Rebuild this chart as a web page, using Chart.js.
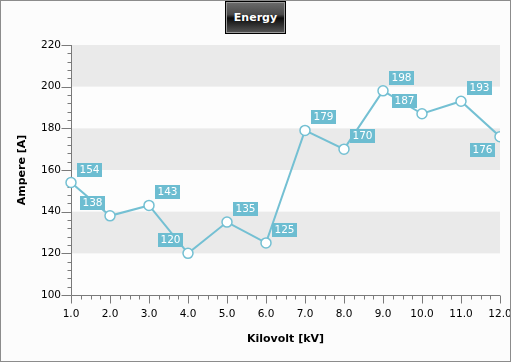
<!DOCTYPE html>
<html>
<head>
<meta charset="utf-8">
<script src="https://cdn.jsdelivr.net/npm/chart.js@4"></script>
<style>
    html, body { margin: 0; padding: 0; background: #fcfcfc; }
    #wrap { position: relative; width: 511px; height: 362px; }
    #frame { position: absolute; left: 0; top: 0; width: 511px; height: 362px; box-sizing: border-box; border: 1px solid #8c8c8c; pointer-events: none; }
    #title {
        position: absolute; left: 225px; top: 1px; width: 61px; height: 33px; box-sizing: border-box;
        border: 1px solid #000; box-shadow: inset 0 0 0 1px #9a9a9a;
        background: linear-gradient(#6c6c6c 0%, #4a4a4a 40%, #0c0c0c 52%, #1c1c1c 62%, #575757 100%);
        color: #fff; font: bold 11px "DejaVu Sans", sans-serif; text-align: center; line-height: 31px;
    }
</style>
</head>
<body>
<div id="wrap">
    <canvas id="chart" width="511" height="362"></canvas>
    <div id="title">Energy</div>
    <div id="frame"></div>
</div>
<script>
// data
const kilovolts = [1, 2, 3, 4, 5, 6, 7, 8, 9, 10, 11, 12];
const amperes = [154, 138, 143, 120, 135, 125, 179, 170, 198, 187, 193, 176];
const labelSides = ['ne', 'nw', 'ne', 'nw', 'ne', 'ne', 'ne', 'ne', 'ne', 'nw', 'ne', 'sw'];
const yBands = [[200, 220], [160, 180], [120, 140]];

const LINE = '#74c0d3';
const LABEL_BG = '#6dbdd1';
const AXIS = '#7a7a7a';
const FONT = '"DejaVu Sans", sans-serif';

// grey bands behind the plot
const bandsPlugin = {
    id: 'bands',
    beforeDatasetsDraw(chart) {
        const { ctx, chartArea: a, scales: { y } } = chart;
        ctx.save();
        ctx.fillStyle = '#fdfdfd';
        ctx.fillRect(a.left + 1, a.top, a.right - a.left - 1, a.bottom - a.top);
        ctx.fillStyle = '#eaeaea';
        yBands.forEach(([lo, hi]) => {
            const top = y.getPixelForValue(hi), bot = y.getPixelForValue(lo);
            ctx.fillRect(a.left + 1, top, a.right - a.left - 1, bot - top);
        });
        ctx.restore();
    }
};

// axis lines with major and minor ticks
const axesPlugin = {
    id: 'axes',
    beforeDatasetsDraw(chart) {
        const { ctx, chartArea: a, scales: { x, y } } = chart;
        ctx.save();
        ctx.strokeStyle = AXIS;
        ctx.lineWidth = 1;
        ctx.beginPath();
        const ax = Math.round(a.left) + 0.5, ay = Math.round(a.bottom) + 0.5;
        ctx.moveTo(ax, a.top); ctx.lineTo(ax, ay);
        ctx.moveTo(ax, ay); ctx.lineTo(a.right, ay);
        for (let v = y.min; v <= y.max; v += 4) {
            const py = Math.round(y.getPixelForValue(v)) + 0.5;
            ctx.moveTo(ax - (v % 20 === 0 ? 10 : 4), py); ctx.lineTo(ax, py);
        }
        for (let v = x.min; v <= x.max + 1e-9; v += 0.25) {
            const px = Math.round(x.getPixelForValue(v)) + 0.5;
            ctx.moveTo(px, ay); ctx.lineTo(px, ay + (Math.abs(v - Math.round(v)) < 1e-9 ? 8 : 4));
        }
        ctx.stroke();
        ctx.restore();
    }
};

// value tags next to each point
const labelsPlugin = {
    id: 'valueTags',
    afterDatasetsDraw(chart) {
        const { ctx } = chart;
        const pts = chart.getDatasetMeta(0).data;
        ctx.save();
        ctx.font = '10.5px ' + FONT;
        ctx.textAlign = 'center';
        ctx.textBaseline = 'middle';
        pts.forEach((p, i) => {
            const text = String(amperes[i]);
            const w = Math.round(ctx.measureText(text).width) + 5, h = 14;
            const side = labelSides[i];
            const bx = side.includes('e') ? p.x + 6 : p.x - 5 - w;
            const by = side.includes('n') ? p.y - 6 - h : p.y + 6;
            ctx.fillStyle = LABEL_BG;
            ctx.fillRect(Math.round(bx), Math.round(by), w, h);
            ctx.fillStyle = '#fff';
            ctx.fillText(text, Math.round(bx) + w / 2, Math.round(by) + h / 2 + 0.5);
        });
        ctx.restore();
    }
};

new Chart(document.getElementById('chart'), {
    type: 'line',
    data: {
        datasets: [{
            data: kilovolts.map((k, i) => ({ x: k, y: amperes[i] })),
            borderColor: LINE,
            borderWidth: 2,
            pointRadius: 5,
            pointBackgroundColor: '#fff',
            pointBorderColor: LINE,
            pointBorderWidth: 1.5,
            tension: 0,
            clip: { left: 10, top: 10, right: 0, bottom: 10 }
        }]
    },
    options: {
        responsive: false,
        animation: false,
        devicePixelRatio: 1,
        layout: { padding: { left: 0, top: 45, right: 11, bottom: 0 } },
        plugins: { legend: { display: false }, tooltip: { enabled: false } },
        scales: {
            x: {
                type: 'linear', min: 1, max: 12,
                afterFit: s => { s.height = 67; s.paddingLeft = 0; s.paddingRight = 0; },
                grid: { display: false, drawTicks: false },
                border: { display: false },
                ticks: { stepSize: 1, padding: 13, maxRotation: 0, autoSkip: false, color: '#000', font: { family: FONT, size: 10.5 }, callback: v => v.toFixed(1) },
                title: { display: true, text: 'Kilovolt [kV]', color: '#000', font: { family: FONT, size: 11, weight: 'bold' }, padding: { top: 0, bottom: 16 } }
            },
            y: {
                min: 100, max: 220,
                afterFit: s => { s.width = 71; },
                grid: { display: false, drawTicks: false },
                border: { display: false },
                ticks: { stepSize: 20, padding: 10, color: '#000', font: { family: FONT, size: 10.5 } },
                title: { display: true, text: 'Ampere [A]', color: '#000', font: { family: FONT, size: 11, weight: 'bold' }, padding: { top: 16, bottom: 0 } }
            }
        }
    },
    plugins: [bandsPlugin, axesPlugin, labelsPlugin]
});
</script>
</body>
</html>
